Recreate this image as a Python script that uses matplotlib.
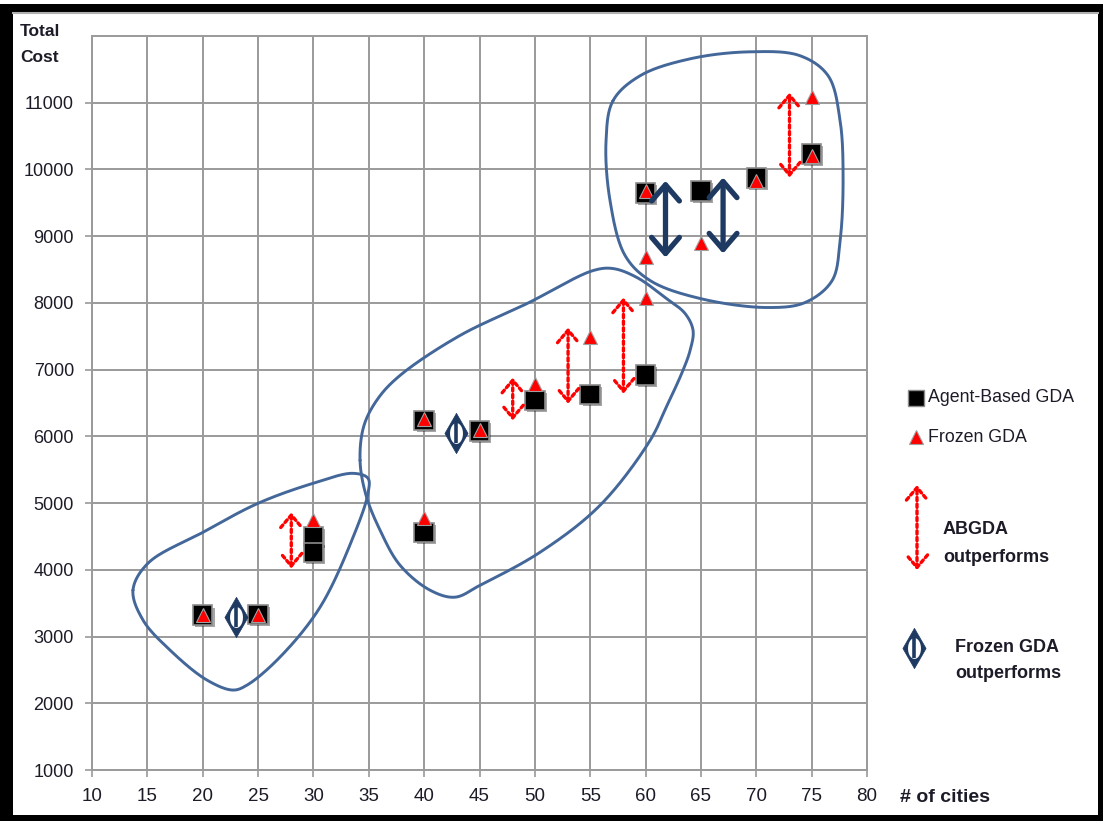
import numpy as np
import matplotlib
matplotlib.use("Agg")
import matplotlib.pyplot as plt
from matplotlib.patches import Rectangle
from matplotlib.path import Path
import matplotlib.patheffects as pe

# ---- data -------------------------------------------------------------
cities_ab = [20, 25, 30, 30, 40, 40, 45, 50, 55, 60, 60, 65, 70, 75]
cost_ab = [3320, 3330, 4500, 4260, 6240, 4560, 6080, 6540, 6630, 6920, 9650, 9680, 9870, 10230]

cities_fz = [20, 25, 30, 40, 40, 45, 50, 55, 60, 60, 60, 65, 70, 75, 75]
cost_fz = [3330, 3330, 4750, 6260, 4770, 6100, 6790, 7490, 8080, 8690, 9670, 8900, 9830, 11080, 10200]

# ABGDA outperforms (red dotted double arrows)
ab_win_x = [28, 48, 53, 58, 73]
ab_win_low = [4020, 6240, 6490, 6640, 9880]
ab_win_high = [4860, 6880, 7630, 8080, 11150]

# Frozen GDA outperforms (navy double arrows / diamonds)
fz_arrow_x = [61.8, 67.0]
fz_arrow_low = [8680, 8740]
fz_arrow_high = [9830, 9880]
fz_diamond_x = [23.0, 42.9]
fz_diamond_y = [3290, 6045]

x_ticks = list(range(10, 85, 5))
y_ticks = list(range(1000, 12000, 1000))

# outlines of the three problem-size groups (cities, cost)
group_small = [(13.70, 3695), (15.06, 4099), (20.03, 4563), (25.00, 4997), (29.96, 5296),
               (33.58, 5446), (34.93, 5371), (34.93, 5147), (33.58, 4488), (30.60, 3440),
               (26.98, 2692), (24.00, 2272), (22.74, 2198), (20.39, 2347), (17.05, 2796),
               (14.61, 3246)]
group_mid = [(34.21, 5641), (34.57, 6165), (35.84, 6569), (37.82, 6913), (43.24, 7512),
             (49.30, 7991), (55.26, 8485), (57.06, 8515), (59.23, 8380), (61.76, 8081),
             (63.57, 7841), (64.29, 7587), (64.02, 7287), (63.30, 6958), (61.94, 6464),
             (60.41, 5940), (55.89, 4967), (50.47, 4263), (45.05, 3769), (42.79, 3590),
             (40.53, 3695), (37.82, 4069), (36.02, 4593), (34.75, 5117)]
group_large = [(57.06, 11030), (59.50, 11404), (64.02, 11658), (69.44, 11763), (73.96, 11704),
               (76.49, 11404), (77.57, 10731), (77.84, 9832), (77.57, 8934), (76.85, 8335),
               (74.41, 8006), (70.98, 7931), (64.92, 8066), (60.41, 8335), (58.15, 8710),
               (56.79, 9533), (56.43, 10431)]

RED = "#ff0000"
NAVY = "#1e3a62"
BLOB = "#44679a"
GRID = "#9a9a9a"
TXT = "#1c1c28"
SANS = ["Liberation Sans", "DejaVu Sans"]

W, H = 1103, 821
fig = plt.figure(figsize=(W / 100, H / 100), dpi=100)
fig.patch.set_facecolor("white")

# frame around the whole figure
fig.patches.append(Rectangle((0, 0), 1, 1 - 4 / H, transform=fig.transFigure,
                             facecolor="black", edgecolor="none", zorder=-2))
fig.patches.append(Rectangle((13 / W, 6 / H), (1098 - 13) / W, (815 - 12) / H,
                             transform=fig.transFigure, facecolor="white",
                             edgecolor="none", zorder=-1))
fig.lines.append(plt.Line2D([13 / W, 1098 / W], [1 - 13.5 / H, 1 - 13.5 / H],
                            transform=fig.transFigure, color="#b0b0b0", lw=1.5, zorder=-0.5))

left, right, top, bottom = 92, 867, 36, 770
ax = fig.add_axes([left / W, 1 - bottom / H, (right - left) / W, (bottom - top) / H])
ax.set_zorder(2)
ax.set_facecolor("none")
ax.set_xlim(10, 80)
ax.set_ylim(1000, 12000)
ax.set_xticks(x_ticks)
ax.set_yticks(y_ticks)
ax.grid(True, color=GRID, lw=1.4)
ax.set_axisbelow(True)
for s in ax.spines.values():
    s.set_color(GRID)
    s.set_linewidth(1.4)
ax.tick_params(axis="both", color=GRID, width=1.2, length=5, direction="out")
ax.tick_params(axis="y", pad=8, labelsize=13, labelcolor=TXT)
ax.tick_params(axis="x", pad=8, labelsize=13.5, labelcolor=TXT)
for lab in ax.get_yticklabels() + ax.get_xticklabels():
    lab.set_family(SANS)

# scale factors so the spline is built in screen-like proportions
SX = (right - left) / 70.0
SY = (bottom - top) / 11000.0


def closed_spline(points, n=30, alpha=0.5):
    pts = np.asarray(points, dtype=float) * [SX, SY]
    m = len(pts)
    out = []
    for i in range(m):
        P0, P1, P2, P3 = pts[(i - 1) % m], pts[i], pts[(i + 1) % m], pts[(i + 2) % m]
        t0 = 0.0
        t1 = t0 + np.linalg.norm(P1 - P0) ** alpha
        t2 = t1 + np.linalg.norm(P2 - P1) ** alpha
        t3 = t2 + np.linalg.norm(P3 - P2) ** alpha
        t = np.linspace(t1, t2, n, endpoint=False)[:, None]
        A1 = (t1 - t) / (t1 - t0) * P0 + (t - t0) / (t1 - t0) * P1
        A2 = (t2 - t) / (t2 - t1) * P1 + (t - t1) / (t2 - t1) * P2
        A3 = (t3 - t) / (t3 - t2) * P2 + (t - t2) / (t3 - t2) * P3
        B1 = (t2 - t) / (t2 - t0) * A1 + (t - t0) / (t2 - t0) * A2
        B2 = (t3 - t) / (t3 - t1) * A2 + (t - t1) / (t3 - t1) * A3
        out.append((t2 - t) / (t2 - t1) * B1 + (t - t1) / (t2 - t1) * B2)
    out = np.vstack(out)
    out = np.vstack([out, out[:1]])
    return out / [SX, SY]


for grp in (group_small, group_mid, group_large):
    c = closed_spline(grp)
    ax.plot(c[:, 0], c[:, 1], color=BLOB, lw=2.1, zorder=3, solid_capstyle="round")

shadow = [pe.SimplePatchShadow(offset=(1.5, -1.5), alpha=0.35), pe.Normal()]

ax.plot(cities_ab, cost_ab, ls="none", marker="s", ms=14, mfc="black",
        mec="#8c8c8c", mew=1.2, zorder=4, path_effects=shadow, clip_on=False)
ax.plot(cities_fz, cost_fz, ls="none", marker="^", ms=9.5, mfc=RED,
        mec="#a0a0a0", mew=0.8, zorder=5, clip_on=False)

for x, lo, hi in zip(ab_win_x, ab_win_low, ab_win_high):
    ax.annotate("", xy=(x, hi), xytext=(x, lo), zorder=6,
                arrowprops=dict(arrowstyle="<->,head_length=0.45,head_width=0.38",
                                color=RED, lw=2.4, ls=(0, (1, 1)), shrinkA=0, shrinkB=0,
                                mutation_scale=20))

for x, lo, hi in zip(fz_arrow_x, fz_arrow_low, fz_arrow_high):
    ax.annotate("", xy=(x, hi), xytext=(x, lo), zorder=6,
                arrowprops=dict(arrowstyle="<->,head_length=0.58,head_width=0.5",
                                color=NAVY, lw=3.8, shrinkA=0, shrinkB=0,
                                mutation_scale=20, capstyle="round", joinstyle="round"))

diamond_path = Path([(0, 1), (0.575, 0), (0, -1), (-0.575, 0), (0, 1)],
                    [Path.MOVETO, Path.LINETO, Path.LINETO, Path.LINETO, Path.CLOSEPOLY])
ang = np.linspace(0, 2 * np.pi, 60)
lens_path = Path(np.column_stack([0.62 * np.sin(ang), np.cos(ang)]))


def draw_diamond(axis, xs, ys, **kw):
    axis.plot(xs, ys, ls="none", marker=diamond_path, ms=29, mfc=NAVY, mec=NAVY,
              mew=0.5, zorder=6, **kw)
    axis.plot(xs, ys, ls="none", marker=lens_path, ms=15, mfc="white", mec="none",
              zorder=7, **kw)
    axis.plot(xs, ys, ls="none", marker="|", ms=14, mec=NAVY, mew=2.6, zorder=8, **kw)


draw_diamond(ax, fz_diamond_x, fz_diamond_y)

# axis titles
fig.text(20 / W, 1 - 32 / H, "Total", fontsize=12.5, fontweight="bold",
         color=TXT, family=SANS, va="center", ha="left")
fig.text(20 / W, 1 - 58 / H, "Cost", fontsize=12.5, fontweight="bold",
         color=TXT, family=SANS, va="center", ha="left")
fig.text(900 / W, 1 - 797 / H, "# of cities", fontsize=14, fontweight="bold",
         color=TXT, family=SANS, va="center", ha="left")

# key on the right, drawn in pixel coordinates
key = fig.add_axes([0, 0, 1, 1], facecolor="none")
key.set_zorder(3)
key.set_xlim(0, W)
key.set_ylim(H, 0)
key.axis("off")
key.plot([916], [398], ls="none", marker="s", ms=11, mfc="black", mec="#8c8c8c", mew=1)
key.text(928, 398, "Agent-Based GDA", fontsize=12.8, color=TXT, va="center", ha="left",
         family=SANS)
key.plot([916], [437], ls="none", marker="^", ms=10, mfc=RED, mec="#a0a0a0", mew=0.8)
key.text(928, 437, "Frozen GDA", fontsize=12.8, color=TXT, va="center", ha="left",
         family=SANS)
key.annotate("", xy=(917, 485), xytext=(917, 570),
             arrowprops=dict(arrowstyle="<->,head_length=0.45,head_width=0.38",
                             color=RED, lw=2.4, ls=(0, (1, 1)), shrinkA=0, shrinkB=0,
                             mutation_scale=20))
key.text(943, 530, "ABGDA", fontsize=13, fontweight="bold", color=TXT,
         va="center", ha="left", family=SANS)
key.text(943, 557, "outperforms", fontsize=13, fontweight="bold", color=TXT,
         va="center", ha="left", family=SANS)
draw_diamond(key, [914], [648])
key.text(955, 647, "Frozen GDA", fontsize=13, fontweight="bold", color=TXT,
         va="center", ha="left", family=SANS)
key.text(955, 673, "outperforms", fontsize=13, fontweight="bold", color=TXT,
         va="center", ha="left", family=SANS)

fig.savefig("out.png", dpi=100, facecolor="white")
